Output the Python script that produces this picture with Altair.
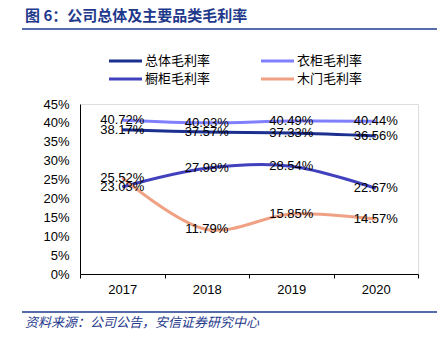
import altair as alt
import pandas as pd

years = ["2017", "2018", "2019", "2020"]
series_names = ["总体毛利率", "衣柜毛利率", "橱柜毛利率", "木门毛利率"]
total = [38.17, 37.57, 37.33, 36.56]
wardrobe = [40.72, 40.03, 40.49, 40.44]
cabinet = [23.03, 27.98, 28.54, 22.67]
door = [25.52, 11.79, 15.85, 14.57]
y_ticks = [0, 0.05, 0.10, 0.15, 0.20, 0.25, 0.30, 0.35, 0.40, 0.45]
colors = ["#1B2F8F", "#8080FF", "#4141BE", "#F0A184"]

rows = []
for name, vals in zip(series_names, [total, wardrobe, cabinet, door]):
    for y, v in zip(years, vals):
        rows.append({"year": y, "series": name, "value": v / 100, "label": f"{v:.2f}%"})
df = pd.DataFrame(rows)

W, H = 338, 170
sans = "Liberation Sans"
cjk = "Noto Sans CJK SC"

x = alt.X("year:N", title=None, sort=years,
          scale=alt.Scale(paddingInner=0, paddingOuter=0),
          axis=alt.Axis(labelAngle=0, labelFontSize=13, labelFont=sans, labelColor="#000",
                        domainColor="#000", tickColor="#000", tickSize=4, tickBand="extent",
                        labelPadding=5, grid=False))
y = alt.Y("value:Q", title=None,
          scale=alt.Scale(domain=[0, 0.45], nice=False),
          axis=alt.Axis(format=".0%", values=y_ticks,
                        labelOverlap=False,
                        labelFontSize=13, labelFont=sans, labelColor="#000",
                        domainColor="#000", ticks=False, labelPadding=11, grid=False))

color = alt.Color("series:N", sort=series_names,
                  scale=alt.Scale(domain=series_names, range=colors), legend=None)

base = alt.Chart(df)
lines = base.mark_line(interpolate="catmull-rom", strokeWidth=3).encode(x=x, y=y, color=color)
labels = base.mark_text(fontSize=13, font=sans, color="#000", align="center",
                        baseline="middle").encode(x=x, y=y, text="label:N")

deco = pd.DataFrame({"k": [0]})

# manual legend (2 columns x 2 rows)
legend_layers = []
for i, name in enumerate(series_names):
    col, row = i % 2, i // 2
    lx = 29 + 152 * col
    ly = -43 + 18 * row
    legend_layers.append(alt.Chart(deco).mark_rule(strokeWidth=3, color=colors[i]).encode(
        x=alt.value(lx), x2=alt.value(lx + 33), y=alt.value(ly)))
    legend_layers.append(alt.Chart(deco).mark_text(text=name, fontSize=13, font=cjk, color="#000",
                                                   align="left", baseline="middle").encode(
        x=alt.value(lx + 36), y=alt.value(ly)))

title = alt.Chart(deco).mark_text(text="图 6：公司总体及主要品类毛利率", fontSize=15, fontWeight="bold",
                                  font=cjk, color="#1F3A8C", align="left",
                                  baseline="middle").encode(x=alt.value(-55), y=alt.value(-88))
tline = alt.Chart(deco).mark_rule(color="#1F3A8C", strokeWidth=1.5).encode(
    x=alt.value(-58), x2=alt.value(357), y=alt.value(-75))
fline = alt.Chart(deco).mark_rule(color="#1F3A8C", strokeWidth=1.5).encode(
    x=alt.value(-58), x2=alt.value(357), y=alt.value(208))
foot = alt.Chart(deco).mark_text(text="资料来源：公司公告，安信证券研究中心", fontSize=13,
                                 fontStyle="italic", font=cjk, color="#1F3A8C", align="left",
                                 baseline="middle").encode(x=alt.value(-55), y=alt.value(219))

chart = alt.layer(lines, labels, title, tline, fline, foot, *legend_layers).properties(
    width=W, height=H,
    padding={"left": 80, "top": 104, "right": 24, "bottom": 69},
    autosize=alt.AutoSizeParams(type="none"),
).configure_view(stroke=None).configure(background="white")

chart.save("out.html", embed_options={"renderer": "svg", "actions": False})
